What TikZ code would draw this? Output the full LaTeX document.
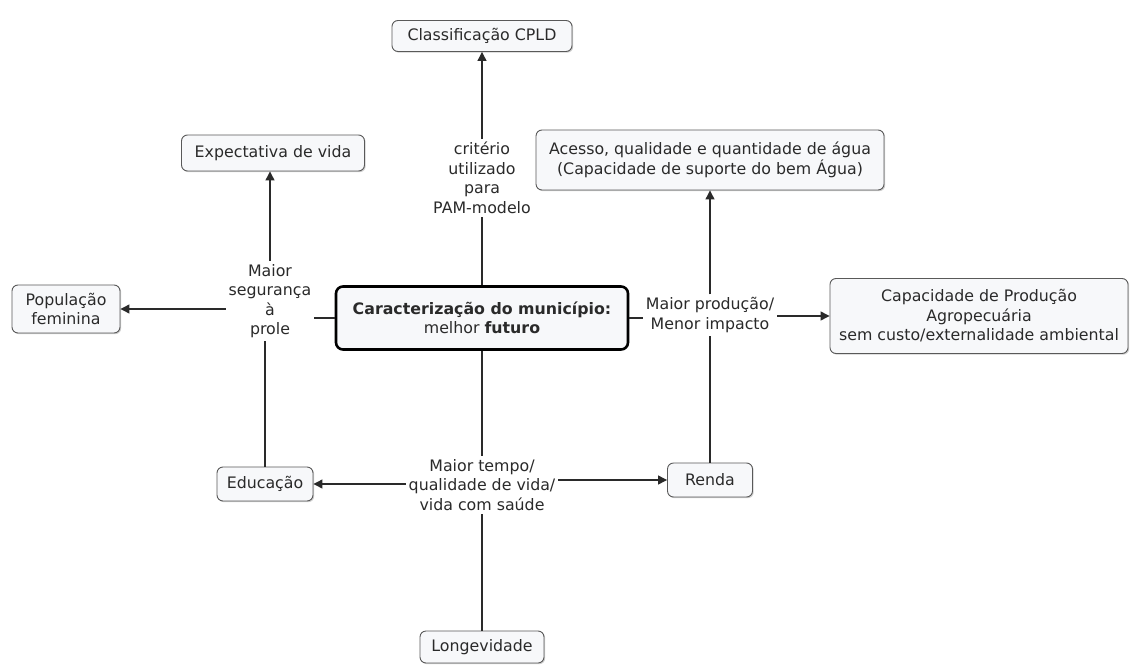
\documentclass[tikz,border=0pt]{standalone}
\usepackage{fontspec}
\setmainfont{DejaVu Sans}
\usetikzlibrary{arrows.meta,shadows}
\definecolor{boxfill}{HTML}{F7F8FA}
\definecolor{ink}{HTML}{2A2A2A}
\tikzset{
  concept/.style={draw=black!65, line width=0.9pt, rounded corners=6pt, fill=boxfill,
    align=center, inner sep=3pt, text=ink,
    drop shadow={shadow xshift=1.2pt, shadow yshift=-1.2pt, fill=black!30, opacity=0.6}},
  mainconcept/.style={draw=black, line width=2.6pt, rounded corners=7pt, fill=boxfill,
    align=center, inner sep=3pt, text=ink},
  linklabel/.style={align=center, inner sep=3pt, text=ink},
  ln/.style={draw=ink, line width=1.2pt},
  arr/.style={ln, -{Triangle[length=9pt,width=9pt]}}
}
\begin{document}
\begin{tikzpicture}[x=1pt,y=-1pt, font=\fontsize{15.8}{19.5}\selectfont]
\useasboundingbox[fill=white] (0,0) rectangle (1131,666);
% concepts
\node[concept, minimum width=180, minimum height=31] (classif) at (482,36) {Classificação CPLD};
\node[concept, minimum width=183, minimum height=36] (expect) at (273,153) {Expectativa de vida};
\node[concept, minimum width=348, minimum height=60] (acesso) at (710,160) {Acesso, qualidade e quantidade de água\\(Capacidade de suporte do bem Água)};
\node[concept, minimum width=108, minimum height=48] (pop) at (66,309) {População\\feminina};
\node[mainconcept, minimum width=292, minimum height=63] (central) at (482,318) {\textbf{Caracterização do município:}\\melhor \textbf{futuro}};
\node[concept, minimum width=298, minimum height=75] (cap) at (979,316) {Capacidade de Produção\\Agropecuária\\sem custo/externalidade ambiental};
\node[concept, minimum width=96, minimum height=34] (edu) at (265,484) {Educação};
\node[concept, minimum width=85, minimum height=34] (renda) at (710,480) {Renda};
\node[concept, minimum width=124, minimum height=32] (longev) at (482,647) {Longevidade};
% linking phrases
\node[linklabel] (crit) at (482,178) {critério\\utilizado\\para\\PAM-modelo};
\node[linklabel] (seg) at (270,301) {Maior\\segurança\\à\\prole};
\node[linklabel] (prod) at (710,315) {Maior produção/\\Menor impacto};
\node[linklabel] (tempo) at (482,485) {Maior tempo/\\qualidade de vida/\\vida com saúde};
% connectors
\draw[ln] (central) -- (crit);
\draw[arr] (crit) -- (classif);
\draw[ln] (central.west) -- (central.west -| seg.east);
\draw[ln] (edu.north) -- (edu.north |- seg.south);
\draw[arr] (seg.north) -- (seg.north |- expect.south);
\draw[arr] (seg.west |- pop.east) -- (pop.east);
\draw[ln] (central.east) -- (central.east -| prod.west);
\draw[ln] (renda) -- (prod);
\draw[arr] (prod) -- (acesso);
\draw[arr] (prod.east |- cap.west) -- (cap.west);
\draw[ln] (central) -- (tempo);
\draw[ln] (longev) -- (tempo);
\draw[arr] (tempo.west |- edu.east) -- (edu.east);
\draw[arr] (tempo.east |- renda.west) -- (renda.west);
\end{tikzpicture}
\end{document}
